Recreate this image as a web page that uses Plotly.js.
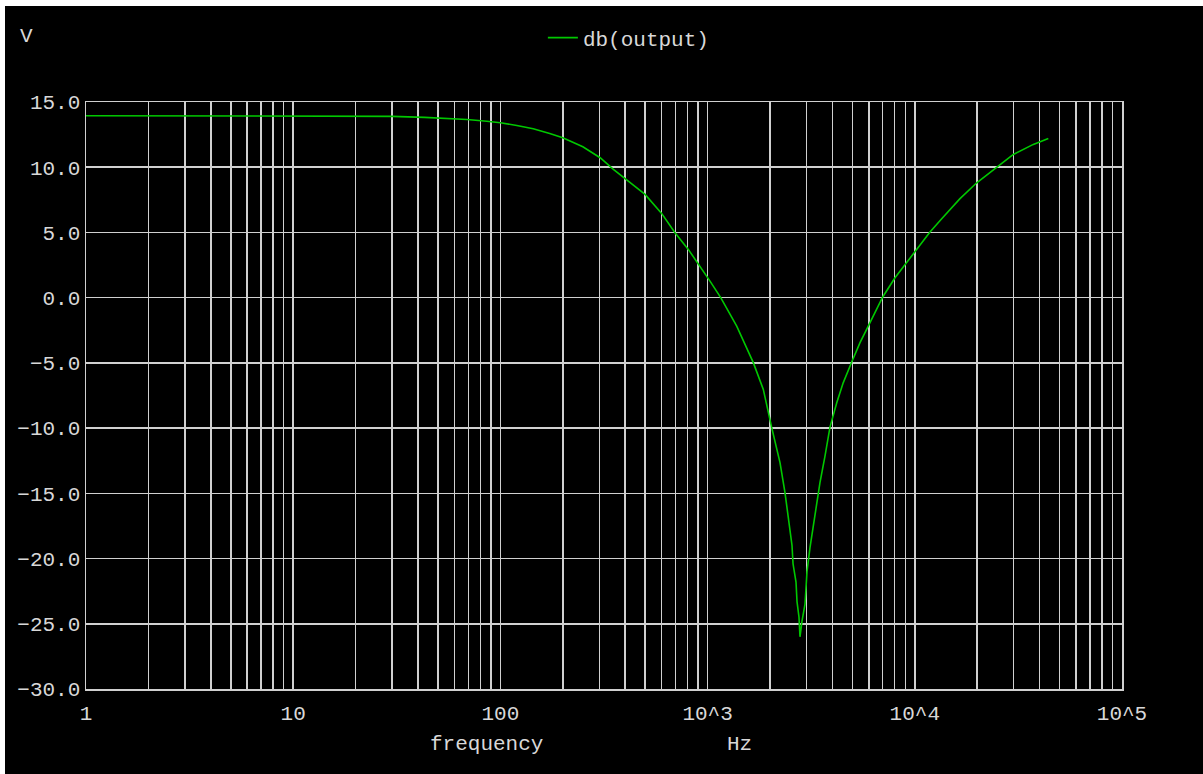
<!DOCTYPE html>
<html>
<head>
<meta charset="utf-8">
<script src="https://cdn.plot.ly/plotly-3.0.1.min.js"></script>
<style>
  html, body { margin: 0; padding: 0; background: #ffffff; width: 1203px; height: 774px; overflow: hidden; }
  #chart { position: absolute; left: 5px; top: 6px; width: 1198px; height: 768px; }
</style>
</head>
<body>
<div id="chart"></div>
<script>
// Frequency (Hz) and response (dB)
const frequency = [1, 3, 10, 20, 30, 43, 55, 69, 86, 100, 120, 144, 173, 200, 250, 303, 351, 422, 499, 600, 696, 807, 919, 1027, 1157, 1382, 1662, 1857, 2039, 2236, 2363, 2480, 2555, 2584, 2671, 2701, 2761, 2792, 2855, 2952, 3018, 3120, 3299, 3486, 3686, 3896, 4200, 4517, 4961, 5440, 6078, 7001, 8026, 10023, 11840, 13484, 16525, 19901, 24856, 29884, 37325, 44100];
const dbOutput = [13.95, 13.95, 13.95, 13.94, 13.9, 13.82, 13.74, 13.66, 13.53, 13.41, 13.2, 12.95, 12.59, 12.26, 11.57, 10.73, 9.83, 8.81, 7.92, 6.46, 4.98, 3.70, 2.42, 1.27, 0.0, -2.18, -4.98, -7.03, -9.96, -12.64, -14.94, -17.24, -19.0, -20.4, -21.8, -23.3, -24.5, -26.0, -24.8, -23.5, -21.0, -19.16, -16.48, -14.18, -12.14, -9.92, -8.05, -6.51, -4.93, -3.45, -1.92, 0.05, 1.53, 3.57, 5.03, 6.05, 7.59, 8.81, 10.0, 10.98, 11.75, 12.2];

// Axis ticks
const decadeValues = [1, 10, 100, 1000, 10000, 100000];
const decadeLabels = ["1", "10", "100", "10^3", "10^4", "10^5"];
const minorDigits = [2, 3, 4, 5, 6, 7, 8, 9];
const yTickValues = [15, 10, 5, 0, -5, -10, -15, -20, -25, -30];
const yTickLabels = ["15.0", "10.0", "5.0", "0.0", "\u22125.0", "\u221210.0", "\u221215.0", "\u221220.0", "\u221225.0", "\u221230.0"];

const xTickVals = [];
const xTickText = [];
decadeValues.forEach((d, i) => {
  xTickVals.push(d); xTickText.push(decadeLabels[i]);
  if (i < decadeValues.length - 1) {
    minorDigits.forEach(m => { xTickVals.push(d * m); xTickText.push(""); });
  }
});

const txt = "#d8d8d8";
const grid = "#d0d0d0";
const fnt = { family: "Liberation Mono, Courier New, monospace", size: 21, color: txt };

const trace = {
  x: frequency, y: dbOutput, type: "scatter", mode: "lines",
  name: "db(output)",
  line: { color: "#00c800", width: 1.6 }
};

const layout = {
  width: 1198, height: 768,
  paper_bgcolor: "#000000", plot_bgcolor: "#000000",
  margin: { l: 81, r: 81, t: 96, b: 85 },
  font: fnt,
  showlegend: true,
  legend: {
    orientation: "h", x: 0.441, xanchor: "left", y: 1.109, yanchor: "middle",
    bgcolor: "rgba(0,0,0,0)", font: fnt
  },
  xaxis: {
    type: "log", range: [0, 5],
    tickmode: "array", tickvals: xTickVals, ticktext: xTickText,
    showgrid: true, gridcolor: grid, gridwidth: 1.5,
    showline: true, linecolor: grid, linewidth: 1.5, mirror: true,
    ticks: "", ticklabelstandoff: 4, zeroline: false,
    tickfont: fnt
  },
  yaxis: {
    range: [-30, 15],
    tickmode: "array", tickvals: yTickValues, ticktext: yTickLabels,
    showgrid: true, gridcolor: grid, gridwidth: 1.5,
    showline: true, linecolor: grid, linewidth: 1.5, mirror: true,
    ticks: "", zeroline: false, ticklabelstandoff: 0,
    tickfont: fnt
  },
  annotations: [
    { text: "V", xref: "paper", yref: "paper", x: -0.066, y: 1.111, xanchor: "left", yanchor: "middle", showarrow: false, font: fnt },
    { text: "frequency", xref: "paper", yref: "paper", x: 0.387, y: -0.095, xanchor: "center", yanchor: "middle", showarrow: false, font: fnt },
    { text: "Hz", xref: "paper", yref: "paper", x: 0.631, y: -0.095, xanchor: "center", yanchor: "middle", showarrow: false, font: fnt }
  ]
};

Plotly.newPlot("chart", [trace], layout, { displayModeBar: false, staticPlot: true });
</script>
</body>
</html>
